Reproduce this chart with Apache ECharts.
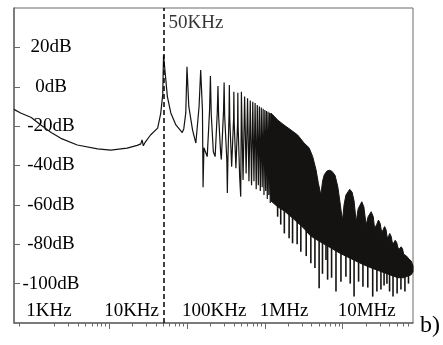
<!DOCTYPE html>
<html>
<head>
<meta charset="utf-8">
<script src="https://cdn.jsdelivr.net/npm/echarts@6/dist/echarts.min.js"></script>
<style>
  html, body { margin: 0; padding: 0; background: #fff; }
  #chart { width: 443px; height: 345px; }
</style>
</head>
<body>
<div id="chart"></div>
<script>
// spectrum: low-frequency curve plus the separate harmonics of 50KHz (Hz, dB)
const specFreq = [
  600, 730, 1000, 1300, 1800, 2400, 3900, 7100, 10500, 17000, 23000, 25500, 26500, 27500, 29000,
  34000, 42000, 46000, 48800, 50000, 56000, 62000, 72000, 87000, 91000, 96500,
  100000, 105500, 118000, 130000, 134000, 143000,
  150000, 158000, 161000, 165000, 182000, 195000,
  200000, 205000, 218000, 230000, 245000,
  250000, 255000, 270000, 276000, 295000,
  300000, 305000, 325000, 330000, 335000, 347000,
  350000, 355000, 375000, 397000,
  400000, 404000, 425000, 447000,
  450000, 454000, 475000, 490000, 497000,
  500000, 525000, 550000, 575000, 600000, 625000, 650000, 675000, 700000, 725000,
  750000, 775000, 800000, 825000, 850000, 875000, 900000, 925000, 950000, 975000,
  1000000, 1025000, 1050000, 1075000, 1100000, 1125000, 1150000, 1175000, 1200000
];
const specDb = [
  -11.5, -13.3, -15.6, -19.2, -23.2, -26.2, -29.6, -31.6, -32.2, -31.2, -29.8, -29.0, -27.0, -30.0, -28.2,
  -24.5, -21.0, -13.5, -4.0, 16.0, -5.0, -13.3, -19.4, -23.3, -21.3, -13.3,
  10.2, -10.0, -22.0, -28.6, -29.6, -10.0,
  8.5, -12.0, -51.0, -31.0, -35.5, -12.0,
  5.5, -14.0, -33.0, -35.5, -13.0,
  0.4, -15.0, -33.0, -37.0, -12.0,
  2.1, -15.0, -37.2, -54.0, -38.0, -14.0,
  0.9, -17.0, -40.6, -16.0,
  -2.5, -18.0, -41.4, -18.0,
  -3.0, -20.0, -45.7, -55.8, -20.0,
  -2.5, -47.4, -5.0, -44.0, -5.9, -48.0, -7.0, -50.0, -7.6, -48.0,
  -8.3, -52.0, -9.3, -50.0, -10.0, -53.0, -10.5, -51.0, -11.2, -55.0,
  -11.8, -53.0, -12.3, -57.0, -12.7, -55.0, -13.2, -59.0, -13.5
];

// dense part above ~1.2MHz: upper envelope with its lobes (Hz, dB)
const bandTopFreq = [
  1.2e6, 1.32e6, 1.46e6, 1.76e6, 2.17e6, 2.64e6, 3.19e6, 3.7e6, 4.12e6, 4.55e6, 4.87e6,
  5.25e6, 5.51e6, 5.81e6, 6.29e6, 6.78e6, 7.31e6, 7.98e6, 8.65e6, 9.15e6, 9.55e6, 9.97e6,
  10.4e6, 11.0e6, 12.3e6, 13.2e6, 14.0e6, 14.9e6,
  15.8e6, 17.6e6, 18.7e6, 20.0e6,
  21.2e6, 23.2e6, 24.7e6, 25.7e6,
  27.3e6, 28.8e6, 30.3e6, 31.7e6,
  33.2e6, 34.5e6, 36.0e6, 37.3e6,
  38.8e6, 40.2e6, 42.0e6, 43.3e6,
  45.2e6, 47.2e6, 49.3e6, 51.1e6,
  53.1e6, 56.4e6, 58.7e6, 60.6e6,
  66e6, 71e6, 75.8e6, 80e6
];
const bandTopDb = [
  -13.5, -15, -16.9, -19.4, -22, -24.5, -28.6, -31, -35.5, -42.3, -49,
  -55, -48, -44.6, -42.8, -42.4, -43, -45, -50.8, -57.5, -63, -67.7,
  -60, -55, -52.1, -53.5, -58, -68.6,
  -62, -58.4, -61, -70.2,
  -66, -63.5, -66, -72,
  -70, -67.7, -69.5, -74,
  -72.5, -71, -72.5, -76.5,
  -76, -74.5, -76, -79,
  -79.5, -78, -79, -81.5,
  -82.5, -81.3, -82.3, -85,
  -86, -87.5, -88.5, -91
];

// lower edge of the solid band (Hz, dB)
const bandLowFreq = [
  1.2e6, 1.46e6, 1.76e6, 2.17e6, 2.64e6, 3.19e6, 3.7e6, 4.12e6, 4.55e6, 5.25e6, 6.78e6,
  9.15e6, 12.3e6, 17.6e6, 23.2e6, 31.7e6, 40.2e6, 51.1e6, 60.6e6, 75.8e6, 80e6
];
const bandLowDb = [
  -58, -61, -63, -66, -69, -72, -75, -76.5, -77.5, -79, -81.5,
  -84.5, -87, -90, -92, -94, -95.5, -97, -97, -95.5, -94
];

// deep notches hanging below the band (Hz, from dB, to dB)
const spikeFreq = [
  1.46e6, 1.6e6, 1.78e6, 2.05e6, 2.27e6, 2.6e6, 2.9e6, 3.4e6, 3.9e6, 4.4e6, 4.98e6, 5.5e6,
  6.1e6, 6.4e6, 7.2e6, 8.2e6, 9.5e6, 11e6, 12.5e6, 14e6, 16e6, 18.2e6, 21e6, 24.3e6,
  27.5e6, 31e6, 34e6, 37e6, 40e6, 44.3e6, 50e6, 56e6, 63e6, 70e6
];
const spikeTop = [
  -60, -61, -62, -64, -66, -68, -70, -72, -74, -75, -77, -78,
  -79, -80, -81, -82, -83, -84, -85, -86, -87, -88, -89, -90,
  -91, -92, -92, -93, -93, -94, -94, -95, -95, -94
];
const spikeBottom = [
  -66, -70, -74.5, -77, -79.5, -80, -83.8, -86, -89.7, -92, -102.4, -95,
  -88, -98, -97, -104, -99, -96.5, -100, -106.6, -99, -101.6, -102, -106.6,
  -104, -103, -101, -100, -104, -106.6, -105, -103, -104, -100
];

// axes
const xTickValues = [1e3, 1e4, 1e5, 1e6, 1e7];
const xTickLabels = ['1KHz', '10KHz', '100KHz', '1MHz', '10MHz'];
const xMajorTicks = [1e4, 1e5, 1e6, 1e7];
const yTickValues = [-100, -80, -60, -40, -20, 0, 20];
const markerFreq = 50000;
const markerLabel = '50KHz';

const xMinorTicks = [700];
[1e3, 1e4, 1e5, 1e6, 1e7].forEach(function (d) {
  for (let m = 2; m <= 9; m++) {
    if (d * m < 8e7) xMinorTicks.push(d * m);
  }
});

const SERIF = '"Liberation Serif", "Times New Roman", serif';
const INK = '#151311';
const FRAME = '#6a6a6a';

function zip(a, b) {
  return a.map(function (v, i) { return [v, b[i]]; });
}

function xLabel(v) {
  for (let i = 0; i < xTickValues.length; i++) {
    if (Math.abs(Math.log10(v) - Math.log10(xTickValues[i])) < 1e-6) return xTickLabels[i];
  }
  return '';
}

const chart = echarts.init(document.getElementById('chart'), null, { renderer: 'canvas' });

chart.setOption({
  animation: false,
  grid: {
    left: 14, right: 30, top: 8, bottom: 22,
    show: true, borderColor: FRAME, borderWidth: 1,
    containLabel: false, outerBoundsMode: 'none'
  },
  xAxis: [
    {
      type: 'log', logBase: 10, min: 600, max: 8e7, position: 'bottom',
      axisLine: { show: true, onZero: false, lineStyle: { color: FRAME, width: 1.5 } },
      axisTick: { show: true, customValues: xMajorTicks, length: 6, lineStyle: { color: FRAME } },
      axisLabel: {
        inside: true, customValues: xTickValues, formatter: xLabel,
        align: 'left', padding: [0, 0, 0, -5], margin: 2,
        color: '#000', fontFamily: SERIF, fontSize: 19
      },
      splitLine: { show: false }
    },
    {
      type: 'log', logBase: 10, min: 600, max: 8e7, position: 'bottom',
      axisLine: { show: false, onZero: false },
      axisTick: { show: true, customValues: xMinorTicks, length: 3.5, lineStyle: { color: FRAME } },
      axisLabel: { show: false },
      splitLine: { show: false }
    }
  ],
  yAxis: {
    type: 'value', min: -120, max: 40, interval: 20,
    axisLine: { show: true, onZero: false, lineStyle: { color: FRAME, width: 1.5 } },
    axisTick: { show: true, inside: true, customValues: yTickValues, length: 6, lineStyle: { color: FRAME } },
    axisLabel: {
      inside: true, customValues: yTickValues,
      formatter: function (v) { return v + 'dB'; },
      align: 'center', margin: 37,
      color: '#000', fontFamily: SERIF, fontSize: 19
    },
    splitLine: { show: false }
  },
  series: [
    {
      name: 'spectrum', type: 'line', data: zip(specFreq, specDb),
      showSymbol: false, lineStyle: { color: INK, width: 1.2 }, z: 3
    },
    {
      // filled band: upper envelope forward, lower edge back, one polygon through the axis scales
      name: 'band', type: 'custom',
      data: zip(bandTopFreq, bandTopDb),
      encode: { x: 0, y: 1 },
      renderItem: function (params, api) {
        if (params.dataIndex !== 0) return null;
        const pts = [];
        for (let i = 0; i < bandTopFreq.length; i++) pts.push(api.coord([bandTopFreq[i], bandTopDb[i]]));
        for (let i = bandLowFreq.length - 1; i >= 0; i--) pts.push(api.coord([bandLowFreq[i], bandLowDb[i]]));
        return {
          type: 'polygon',
          shape: { points: pts },
          style: { fill: INK, stroke: INK, lineWidth: 1 }
        };
      },
      z: 2
    },
    {
      name: 'notches', type: 'custom',
      data: spikeFreq.map(function (f, i) { return [f, spikeTop[i], spikeBottom[i]]; }),
      encode: { x: 0, y: [1, 2] },
      renderItem: function (params, api) {
        const a = api.coord([api.value(0), api.value(1)]);
        const b = api.coord([api.value(0), api.value(2)]);
        return {
          type: 'line',
          shape: { x1: a[0], y1: a[1], x2: b[0], y2: b[1] },
          style: { stroke: INK, lineWidth: 1.6 }
        };
      },
      z: 2
    },
    {
      name: 'marker', type: 'scatter', data: [[markerFreq, 32.6]], symbolSize: 0,
      label: {
        show: true, position: 'right', distance: 5, formatter: markerLabel,
        color: '#000', fontFamily: SERIF, fontSize: 19
      },
      markLine: {
        silent: true, symbol: 'none', label: { show: false },
        lineStyle: { color: '#000', width: 1.5, type: [5, 3] },
        data: [{ xAxis: markerFreq }]
      },
      z: 4
    }
  ],
  graphic: [
    {
      type: 'text', left: 420, top: 314,
      style: { text: 'b)', font: '24px "Liberation Serif", serif', fill: '#000' }
    }
  ]
});
</script>
</body>
</html>
